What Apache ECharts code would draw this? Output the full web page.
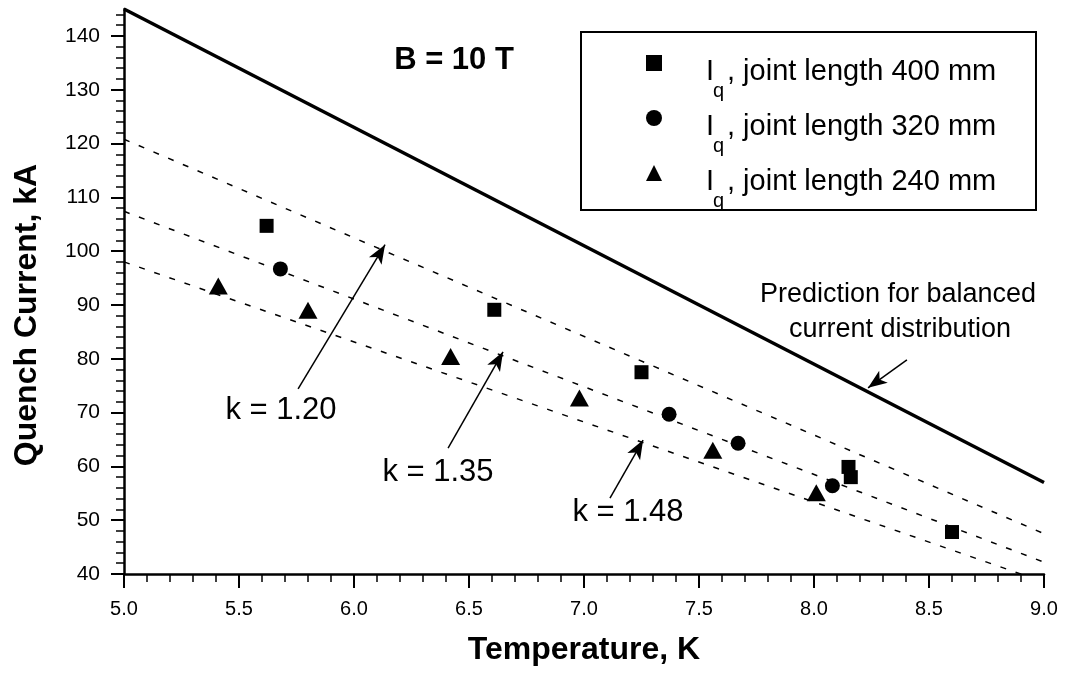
<!DOCTYPE html>
<html><head><meta charset="utf-8">
<script src="https://cdn.jsdelivr.net/npm/echarts@6/dist/echarts.min.js"></script>
<style>html,body{margin:0;padding:0;background:#fff}#c{width:1065px;height:677px}</style>
</head><body><div id="c"></div>
<script>
// ---- data ----
const predT = [5.0, 9.0];
const predI = [145, 57];
const k120T = [5.0, 9.0];
const k120I = [120.8, 47.5];
const k135T = [5.0, 9.0];
const k135I = [107.4, 42.2];
const k148T = [5.0, 9.0];
const k148I = [98.0, 38.5];

const j400T = [5.62, 6.61, 7.25, 8.15, 8.16, 8.60];
const j400I = [104.7, 89.1, 77.5, 59.9, 58.0, 47.8];
const j320T = [5.68, 7.37, 7.67, 8.08];
const j320I = [96.7, 69.7, 64.3, 56.4];
const j240T = [5.41, 5.80, 6.42, 6.98, 7.56, 8.01];
const j240I = [93.5, 89.0, 80.4, 72.7, 63.0, 55.1];

const seriesNames = ['joint length 400 mm', 'joint length 320 mm', 'joint length 240 mm'];

const xTickValues = [5.0, 5.5, 6.0, 6.5, 7.0, 7.5, 8.0, 8.5, 9.0];
const xTickLabels = ['5.0', '5.5', '6.0', '6.5', '7.0', '7.5', '8.0', '8.5', '9.0'];
const yTickValues = [40, 50, 60, 70, 80, 90, 100, 110, 120, 130, 140];
const yTickLabels = ['40', '50', '60', '70', '80', '90', '100', '110', '120', '130', '140'];
const yMinorTicks = [42, 44, 46, 48, 52, 54, 56, 58, 62, 64, 66, 68, 72, 74, 76, 78, 82, 84, 86, 88,
  92, 94, 96, 98, 102, 104, 106, 108, 112, 114, 116, 118, 122, 124, 126, 128, 132, 134, 136, 138, 142, 144];

// annotation arrows (tail -> tip)
const arrowFromT = [5.757, 6.409, 7.113, 8.404];
const arrowFromI = [74.4, 63.4, 54.1, 79.8];
const arrowToT = [6.135, 6.648, 7.257, 8.235];
const arrowToI = [101.2, 81.3, 64.9, 74.6];

// ---- build ----
const zip = (a, b) => a.map((v, i) => [v, b[i]]);
const FONT = '"Liberation Sans", Arial, Helvetica, sans-serif';
const black = '#000';

const chart = echarts.init(document.getElementById('c'), null, {renderer: 'canvas'});

function txt(x, y, text, size, opts) {
  opts = opts || {};
  return {
    type: 'text', x: x, y: y, rotation: opts.rotation || 0, z: 50,
    style: {
      text: text, fill: black,
      font: (opts.bold ? 'bold ' : '') + size + 'px ' + FONT,
      align: opts.align || 'center', verticalAlign: 'middle',
      textAlign: opts.align || 'center', textVerticalAlign: 'middle'
    }
  };
}

const legendRowsY = [72, 127, 182];
const graphics = [
  {type: 'rect', shape: {x: 581, y: 32, width: 455, height: 178}, style: {fill: 'none', stroke: black, lineWidth: 2}, z: 40},
  txt(27, 315, 'Quench Current, kA', 32, {bold: true, rotation: Math.PI / 2}),
  txt(454, 60, 'B = 10 T', 31, {bold: true}),
  txt(281, 410, 'k = 1.20', 31),
  txt(438, 472, 'k = 1.35', 31),
  txt(628, 512, 'k = 1.48', 31),
  txt(898, 295, 'Prediction for balanced', 27),
  txt(900, 330, 'current distribution', 27)
];
seriesNames.forEach((n, i) => {
  graphics.push(txt(706, legendRowsY[i], 'I', 29, {align: 'left'}));
  graphics.push(txt(713, legendRowsY[i] + 19, 'q', 20, {align: 'left'}));
  graphics.push(txt(727, legendRowsY[i], ', ' + n, 29, {align: 'left'}));
});

const dashStyle = {color: black, width: 1.5, type: [6, 10]};

const option = {
  backgroundColor: '#fff',
  animation: false,
  grid: {left: 124, right: 21, top: 9, bottom: 103, containLabel: false, outerBoundsMode: 'none'},
  legend: {
    orient: 'vertical', left: 646, top: 55, itemWidth: 16, itemHeight: 16, itemGap: 39,
    data: seriesNames, formatter: () => '', textStyle: {fontSize: 10}, padding: 0, selectedMode: false,
    itemStyle: {color: black, opacity: 1}
  },
  xAxis: {
    type: 'value', min: 5, max: 9, interval: 0.5,
    axisLine: {show: true, onZero: false, lineStyle: {color: black, width: 2.5}},
    axisTick: {show: true, length: 14, lineStyle: {color: black, width: 2}},
    minorTick: {show: true, splitNumber: 5, length: 8, lineStyle: {color: black, width: 1.5}},
    splitLine: {show: false}, minorSplitLine: {show: false},
    axisLabel: {
      color: black, fontSize: 20, fontFamily: FONT, margin: 25,
      customValues: xTickValues,
      formatter: v => { const i = xTickValues.findIndex(t => Math.abs(t - v) < 1e-6); return i >= 0 ? xTickLabels[i] : ''; }
    },
    name: 'Temperature, K', nameLocation: 'middle', nameGap: 60,
    nameTextStyle: {color: black, fontSize: 32, fontWeight: 'bold', fontFamily: FONT}
  },
  yAxis: [{
    type: 'value', min: 40, max: 145, interval: 10,
    axisLine: {show: true, onZero: false, lineStyle: {color: black, width: 2.5}},
    axisTick: {show: true, length: 13, customValues: yTickValues, lineStyle: {color: black, width: 2}},
    splitLine: {show: false},
    axisLabel: {
      color: black, fontSize: 21, fontFamily: FONT, margin: 24,
      customValues: yTickValues,
      formatter: v => { const i = yTickValues.indexOf(v); return i >= 0 ? yTickLabels[i] : ''; }
    }
  }, {
    type: 'value', min: 40, max: 145, position: 'left', offset: 0,
    axisLine: {show: false},
    axisTick: {show: true, length: 8, customValues: yMinorTicks, lineStyle: {color: black, width: 1.5}},
    axisLabel: {show: false}, splitLine: {show: false}
  }],
  graphic: graphics,
  series: [
    {
      type: 'line', name: 'prediction', data: zip(predT, predI), symbol: 'none', silent: true, z: 3,
      lineStyle: {color: black, width: 3.5},
      markLine: {
        silent: true, animation: false, symbol: 'arrow', symbolSize: 12,
        label: {show: false}, emphasis: {disabled: true},
        lineStyle: {color: black, width: 1.5, type: 'solid', opacity: 1},
        data: arrowFromT.map((t, i) => [
          {coord: [t, arrowFromI[i]], symbol: 'none', symbolSize: 1},
          {coord: [arrowToT[i], arrowToI[i]], symbol: 'arrow', symbolSize: [11, 19]}
        ])
      }
    },
    {type: 'line', name: 'k = 1.20', data: zip(k120T, k120I), symbol: 'none', silent: true, clip: true, lineStyle: dashStyle},
    {type: 'line', name: 'k = 1.35', data: zip(k135T, k135I), symbol: 'none', silent: true, clip: true, lineStyle: dashStyle},
    {type: 'line', name: 'k = 1.48', data: zip(k148T, k148I), symbol: 'none', silent: true, clip: true, lineStyle: dashStyle},
    {type: 'scatter', name: seriesNames[0], data: zip(j400T, j400I), symbol: 'rect', symbolSize: 14, itemStyle: {color: black, opacity: 1}, z: 5},
    {type: 'scatter', name: seriesNames[1], data: zip(j320T, j320I), symbol: 'circle', symbolSize: 15, itemStyle: {color: black, opacity: 1}, z: 5},
    {type: 'scatter', name: seriesNames[2], data: zip(j240T, j240I), symbol: 'triangle', symbolSize: [19, 17], itemStyle: {color: black, opacity: 1}, z: 5}
  ]
};
chart.setOption(option);
</script>
</body></html>
